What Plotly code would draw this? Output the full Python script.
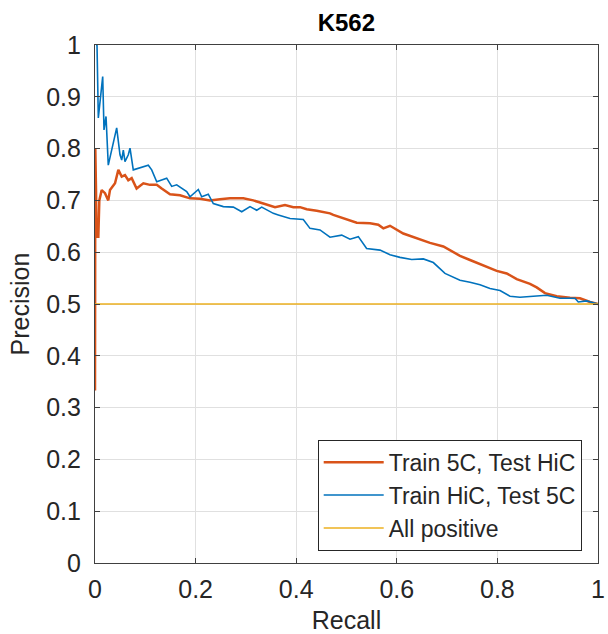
import plotly.graph_objects as go

# Train 5C, Test HiC (orange)
recall_5c_hic = [0.0, 0.0006, 0.002, 0.003, 0.0066, 0.0086, 0.0133, 0.0199, 0.0264, 0.0298,
                 0.0398, 0.0464, 0.0531, 0.0596, 0.0662, 0.0729, 0.0827, 0.0961, 0.1093, 0.1227,
                 0.1326, 0.1491, 0.169, 0.1889, 0.2087, 0.2286, 0.2485, 0.2684, 0.2949, 0.3148,
                 0.3346, 0.3579, 0.3777, 0.3943, 0.4076, 0.4209, 0.4408, 0.4672, 0.4738, 0.5004,
                 0.5203, 0.5467, 0.5632, 0.5732, 0.5865, 0.6129, 0.6396, 0.666, 0.6925, 0.7058,
                 0.7256, 0.7455, 0.772, 0.7986, 0.8185, 0.8384, 0.8648, 0.8781, 0.8946, 0.9179,
                 0.9443, 0.9642, 0.9841, 1.0]
precision_5c_hic = [0.333, 0.80, 0.72, 0.63, 0.63, 0.70, 0.72, 0.714, 0.70, 0.72,
                    0.733, 0.759, 0.746, 0.749, 0.739, 0.743, 0.723, 0.733, 0.73, 0.73,
                    0.723, 0.712, 0.71, 0.704, 0.703, 0.70, 0.702, 0.704, 0.704, 0.70,
                    0.694, 0.687, 0.691, 0.687, 0.687, 0.683, 0.68, 0.675, 0.672, 0.663,
                    0.657, 0.656, 0.653, 0.646, 0.651, 0.636, 0.627, 0.618, 0.611, 0.604,
                    0.593, 0.585, 0.575, 0.564, 0.559, 0.548, 0.539, 0.532, 0.521, 0.515,
                    0.512, 0.511, 0.504, 0.50]

# Train HiC, Test 5C (blue)
recall_hic_5c = [0.002, 0.004, 0.0066, 0.0153, 0.0179, 0.0219, 0.0264, 0.0431, 0.0497, 0.0531,
                 0.0563, 0.0596, 0.0662, 0.0696, 0.0761, 0.0861, 0.0994, 0.106, 0.1127, 0.1227,
                 0.1425, 0.1525, 0.1624, 0.1823, 0.1889, 0.2054, 0.2121, 0.2252, 0.2352, 0.2551,
                 0.275, 0.2917, 0.3082, 0.3215, 0.3314, 0.3545, 0.3644, 0.3877, 0.4141, 0.4274,
                 0.4473, 0.4672, 0.4905, 0.507, 0.5235, 0.540, 0.5666, 0.5865, 0.6064, 0.6296,
                 0.6527, 0.6726, 0.6958, 0.7123, 0.7256, 0.7455, 0.7654, 0.7853, 0.8052, 0.825,
                 0.8449, 0.8714, 0.898, 0.9245, 0.9543, 0.9608, 0.9775, 1.0]
precision_hic_5c = [1.0, 1.0, 0.859, 0.939, 0.836, 0.862, 0.768, 0.84, 0.788, 0.778,
                    0.797, 0.775, 0.788, 0.801, 0.759, 0.762, 0.765, 0.768, 0.759, 0.736,
                    0.743, 0.727, 0.73, 0.717, 0.707, 0.721, 0.707, 0.712, 0.694, 0.688,
                    0.687, 0.678, 0.688, 0.681, 0.687, 0.675, 0.672, 0.665, 0.663, 0.646,
                    0.643, 0.629, 0.633, 0.625, 0.63, 0.607, 0.604, 0.595, 0.59, 0.586,
                    0.587, 0.58, 0.559, 0.552, 0.546, 0.542, 0.537, 0.53, 0.526, 0.515,
                    0.513, 0.515, 0.517, 0.511, 0.511, 0.504, 0.506, 0.50]

# All positive baseline
recall_all = [0.0, 1.0]
precision_all = [0.5, 0.5]

x_ticks = [0, 0.2, 0.4, 0.6, 0.8, 1]
x_labels = ["0", "0.2", "0.4", "0.6", "0.8", "1"]
y_ticks = [0, 0.1, 0.2, 0.3, 0.4, 0.5, 0.6, 0.7, 0.8, 0.9, 1]
y_labels = ["0", "0.1", "0.2", "0.3", "0.4", "0.5", "0.6", "0.7", "0.8", "0.9", "1"]

FONT = "Arial"
TXT = "#262626"
FS = 25

fig = go.Figure()
fig.add_trace(go.Scatter(x=recall_5c_hic, y=precision_5c_hic, mode="lines",
                         name="Train 5C, Test HiC",
                         line=dict(color="#D95319", width=2.5)))
fig.add_trace(go.Scatter(x=recall_hic_5c, y=precision_hic_5c, mode="lines",
                         name="Train HiC, Test 5C",
                         line=dict(color="#0072BD", width=1.6)))
fig.add_trace(go.Scatter(x=recall_all, y=precision_all, mode="lines",
                         name="All positive",
                         line=dict(color="#EDB120", width=1.6)))

axis_common = dict(
    showgrid=True, gridcolor="#e0e0e0", gridwidth=1,
    showline=True, linecolor="#404040", linewidth=1.2, mirror="ticks",
    ticks="inside", ticklen=5, tickcolor="#404040", tickwidth=1,
    zeroline=False, automargin=False,
    tickfont=dict(family=FONT, size=FS, color=TXT),
)

fig.update_xaxes(range=[0, 1], tickvals=x_ticks, ticktext=x_labels, ticklabelstandoff=4,
                 title=dict(text="Recall", font=dict(family=FONT, size=FS, color=TXT), standoff=10),
                 **axis_common)
fig.update_yaxes(range=[0, 1], tickvals=y_ticks, ticktext=y_labels, ticklabelstandoff=8,
                 title=dict(text="Precision", font=dict(family=FONT, size=FS, color=TXT), standoff=9),
                 **axis_common)

fig.update_layout(
    width=608, height=634,
    margin=dict(l=95, r=10, t=45, b=71),
    plot_bgcolor="white", paper_bgcolor="white",
    title=dict(text="<b>K562</b>", x=0.5697, xanchor="center", y=0.965, yanchor="middle",
               font=dict(family=FONT, size=24, color="#000000")),
    legend=dict(x=0.9676, y=0.0237, xanchor="right", yanchor="bottom",
                bgcolor="white", bordercolor="#262626", borderwidth=1,
                font=dict(family=FONT, size=23, color=TXT), itemwidth=60,
                tracegroupgap=0),
    showlegend=True,
)

fig.write_html("out.html")
